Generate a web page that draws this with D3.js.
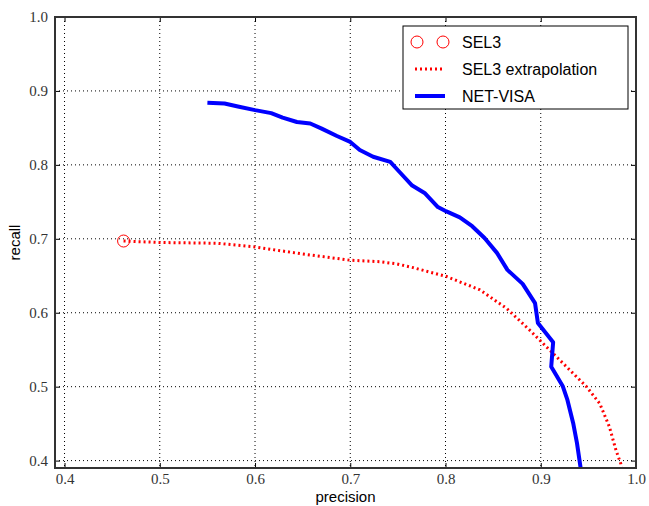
<!DOCTYPE html>
<html>
<head>
<meta charset="utf-8">
<script src="https://cdn.jsdelivr.net/npm/d3@7"></script>
<style>
  body { margin: 0; background: #fff; }
  .tick text { font-family: "Liberation Serif", "DejaVu Serif", serif; font-size: 15px; fill: #333; }
  .lbl { font-family: "Liberation Sans", Arial, sans-serif; font-size: 15px; }
</style>
</head>
<body>
<svg id="chart" width="649" height="506"></svg>
<script>
// NET-VISA precision / recall curve
var netPrecision = [0.550, 0.568, 0.582, 0.600, 0.617, 0.629, 0.644, 0.658, 0.670, 0.686, 0.700, 0.710, 0.724, 0.742, 0.752,
    0.765, 0.778, 0.792, 0.801, 0.815, 0.828, 0.841, 0.854, 0.865, 0.881, 0.894, 0.897, 0.913, 0.911, 0.923, 0.928, 0.934, 0.938, 0.943];
var netRecall = [0.884, 0.883, 0.879, 0.874, 0.870, 0.864, 0.858, 0.856, 0.849, 0.839, 0.831, 0.820, 0.811, 0.804, 0.790,
    0.772, 0.762, 0.743, 0.737, 0.729, 0.717, 0.701, 0.681, 0.658, 0.639, 0.613, 0.586, 0.560, 0.527, 0.501, 0.482, 0.451, 0.424, 0.380];

// SEL3 extrapolation
var extPrecision = [0.462, 0.500, 0.560, 0.600, 0.647, 0.700, 0.731, 0.749, 0.766, 0.801, 0.836, 0.864, 0.888, 0.909, 0.927, 0.948, 0.962, 0.972, 0.979, 0.984, 0.986];
var extRecall = [0.697, 0.695, 0.694, 0.689, 0.680, 0.671, 0.669, 0.666, 0.661, 0.649, 0.631, 0.606, 0.577, 0.550, 0.527, 0.500, 0.477, 0.446, 0.414, 0.396, 0.385];

// SEL3 operating point
var selPrecision = [0.462];
var selRecall = [0.697];

var xTicks = [0.4, 0.5, 0.6, 0.7, 0.8, 0.9, 1.0];
var yTicks = [0.4, 0.5, 0.6, 0.7, 0.8, 0.9, 1.0];
var legendLabels = ['SEL3', 'SEL3 extrapolation', 'NET-VISA'];

var svg = d3.select('#chart');
var plotL = 55, plotR = 636, plotT = 17, plotB = 468;

var x = d3.scaleLinear().domain([0.39, 1.0]).range([plotL, plotR]);
var y = d3.scaleLinear().domain([0.39, 1.0]).range([plotB, plotT]);

svg.append('defs').append('clipPath').attr('id', 'clip')
    .append('rect').attr('x', plotL).attr('y', plotT).attr('width', plotR - plotL).attr('height', plotB - plotT);

// grid
var grid = svg.append('g');
grid.selectAll('.gx').data(xTicks).enter().append('line')
    .attr('x1', function (d) { return x(d); }).attr('x2', function (d) { return x(d); })
    .attr('y1', plotT).attr('y2', plotB)
    .style('stroke', '#000').style('stroke-width', 1).style('stroke-dasharray', '1,3');
grid.selectAll('.gy').data(yTicks).enter().append('line')
    .attr('y1', function (d) { return y(d); }).attr('y2', function (d) { return y(d); })
    .attr('x1', plotL).attr('x2', plotR)
    .style('stroke', '#000').style('stroke-width', 1).style('stroke-dasharray', '1,3');

// axes with inward ticks
var fmt = d3.format('.1f');
svg.append('g').attr('transform', 'translate(0,' + plotB + ')')
    .call(d3.axisBottom(x).tickValues(xTicks).tickFormat(fmt).tickSizeInner(-5).tickSizeOuter(0).tickPadding(5))
    .call(function (g) { g.select('.domain').remove(); });
svg.append('g').attr('transform', 'translate(' + plotL + ',0)')
    .call(d3.axisLeft(y).tickValues(yTicks).tickFormat(fmt).tickSizeInner(-5).tickSizeOuter(0).tickPadding(7))
    .call(function (g) { g.select('.domain').remove(); });
svg.append('g').attr('transform', 'translate(0,' + plotT + ')')
    .call(d3.axisTop(x).tickValues(xTicks).tickFormat('').tickSizeInner(-5).tickSizeOuter(0))
    .call(function (g) { g.select('.domain').remove(); });
svg.append('g').attr('transform', 'translate(' + plotR + ',0)')
    .call(d3.axisRight(y).tickValues(yTicks).tickFormat('').tickSizeInner(-5).tickSizeOuter(0))
    .call(function (g) { g.select('.domain').remove(); });
svg.selectAll('.tick line').style('stroke', '#000');

var plot = svg.append('g').attr('clip-path', 'url(#clip)');

var ext = extPrecision.map(function (p, i) { return [p, extRecall[i]]; });
var net = netPrecision.map(function (p, i) { return [p, netRecall[i]]; });
var line = d3.line().x(function (d) { return x(d[0]); }).y(function (d) { return y(d[1]); });

plot.append('path').datum(ext).attr('d', line)
    .style('fill', 'none').style('stroke', '#ff0000').style('stroke-width', 3).style('stroke-dasharray', '2,3');
plot.append('path').datum(net).attr('d', line)
    .style('fill', 'none').style('stroke', '#0000ff').style('stroke-width', 4).style('stroke-linejoin', 'round');
plot.selectAll('.sel').data(selPrecision).enter().append('circle')
    .attr('cx', function (d) { return x(d); })
    .attr('cy', function (d, i) { return y(selRecall[i]); })
    .attr('r', 6)
    .style('fill', 'none').style('stroke', '#ff0000').style('stroke-width', 1);

// frame
svg.append('rect').attr('x', plotL).attr('y', plotT).attr('width', plotR - plotL).attr('height', plotB - plotT)
    .style('fill', 'none').style('stroke', '#333').style('stroke-width', 2);

// axis labels
svg.append('text').attr('class', 'lbl').attr('x', (plotL + plotR) / 2).attr('y', 502)
    .attr('text-anchor', 'middle').text('precision');
svg.append('text').attr('class', 'lbl').attr('transform', 'translate(20,' + ((plotT + plotB) / 2) + ') rotate(-90)')
    .attr('text-anchor', 'middle').text('recall');

// legend
var lg = svg.append('g');
lg.append('rect').attr('x', 403).attr('y', 26).attr('width', 225).attr('height', 83)
    .style('fill', '#fff').style('stroke', '#000').style('stroke-width', 1);
var rowY = [42, 69, 96];
lg.selectAll('.lt').data(legendLabels).enter().append('text')
    .attr('x', 462).attr('y', function (d, i) { return rowY[i]; })
    .attr('dy', '0.35em')
    .style('font-family', '"Liberation Sans", Arial, sans-serif').style('font-size', '16px')
    .text(function (d) { return d; });
[417, 443].forEach(function (cx) {
    lg.append('circle').attr('cx', cx).attr('cy', rowY[0]).attr('r', 6)
        .style('fill', 'none').style('stroke', '#ff0000').style('stroke-width', 1);
});
lg.append('line').attr('x1', 415).attr('x2', 445).attr('y1', rowY[1]).attr('y2', rowY[1])
    .style('stroke', '#ff0000').style('stroke-width', 3).style('stroke-dasharray', '2,3');
lg.append('line').attr('x1', 415).attr('x2', 445).attr('y1', rowY[2]).attr('y2', rowY[2])
    .style('stroke', '#0000ff').style('stroke-width', 4);
</script>
</body>
</html>
